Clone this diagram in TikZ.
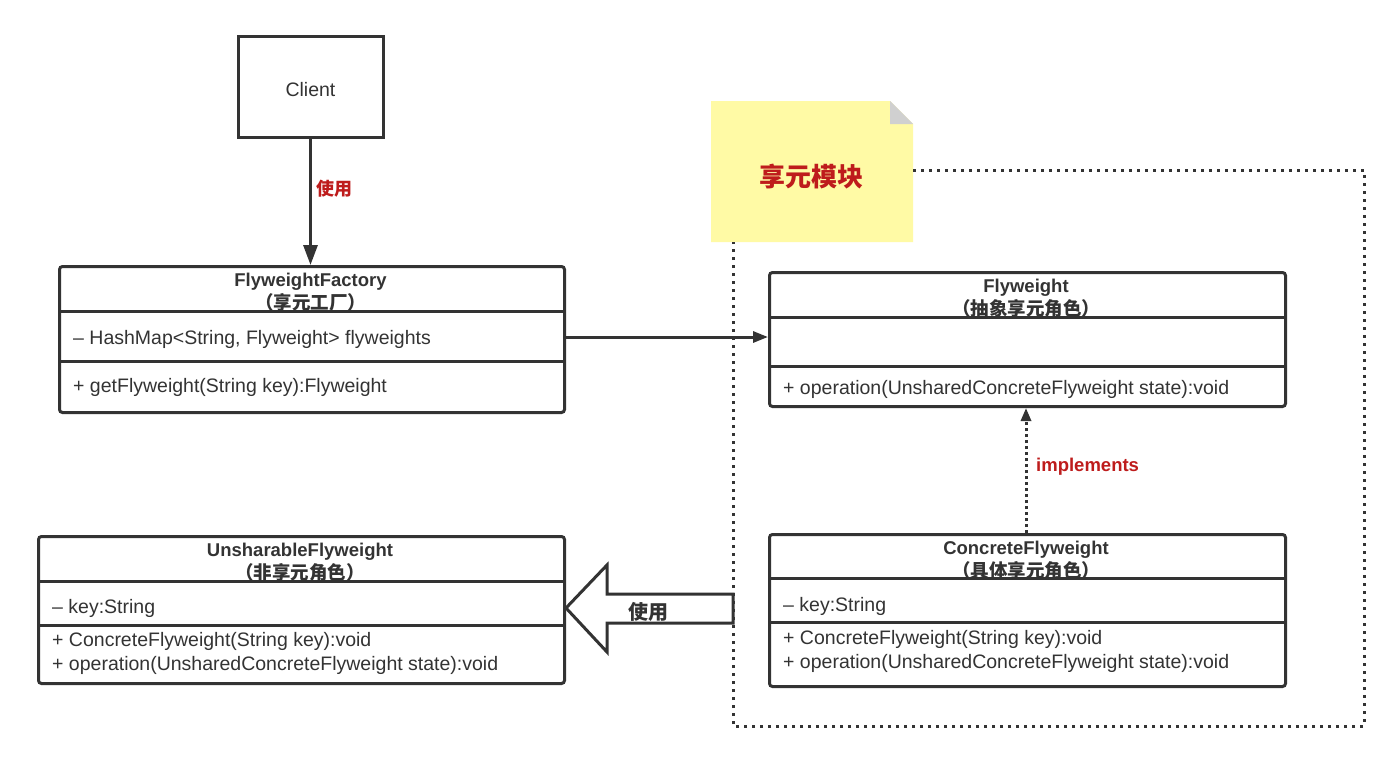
\documentclass[tikz,border=0pt]{standalone}
\usepackage{fontspec}
\setmainfont{Liberation Sans}
\newfontfamily\cjk{Noto Sans CJK SC}
\usetikzlibrary{arrows.meta}
\definecolor{ink}{RGB}{51,51,51}
\definecolor{redtxt}{RGB}{190,28,28}
\definecolor{notey}{RGB}{255,250,165}
\definecolor{notec}{RGB}{208,208,208}
\begin{document}
\begin{tikzpicture}[x=1pt,y=-1pt,
  umlbox/.style={draw=ink,line width=3pt,rounded corners=3pt,anchor=north west,inner sep=0pt},
  divline/.style={draw=ink,line width=3pt},
  title/.style={font=\fontsize{18.5}{22}\selectfont\bfseries,text=ink,inner sep=0pt},
  sub/.style={font=\cjk\fontsize{18.5}{22}\selectfont\bfseries,text=ink,inner sep=0pt},
  member/.style={font=\fontsize{19.5}{23}\selectfont,text=ink,inner sep=0pt,anchor=west},
  redlabel/.style={font=\fontsize{18.5}{22}\selectfont\bfseries,text=redtxt,inner sep=0pt},
  conn/.style={draw=ink,line width=3pt}
]
\useasboundingbox (0,0) rectangle (1400,763);
\fill[white] (0,0) rectangle (1400,763);

% Client
\node[draw=ink,line width=3pt,minimum width=145pt,minimum height=101pt,inner sep=0pt,
      font=\fontsize{19.5}{23}\selectfont,text=ink] (client) at (310.5,86.5) {};
\node[font=\fontsize{19.5}{23}\selectfont,text=ink,inner sep=0pt] (clientt) at (310.5,89.5) {Client};

% FlyweightFactory
\node[umlbox,minimum width=505pt,minimum height=146pt] (ff) at (58,265) {};
\draw[divline] (58,311) -- (563,311);
\draw[divline] (58,361) -- (563,361);
\node[title] (fft) at (310.5,281.5) {FlyweightFactory};
\node[sub] (ffs) at (310.5,302.5) {（享元工厂）};
\node[member] (ffa) at (73,339) {– HashMap<String, Flyweight> flyweights};
\node[member] (ffm) at (73,387) {+ getFlyweight(String key):Flyweight};

% Note
\fill[notey] (711,101) -- (890,101) -- (913,124) -- (913,242) -- (711,242) -- cycle;
\fill[notec] (890,101) -- (913,124) -- (890,124) -- cycle;
\node[font=\cjk\fontsize{26}{30}\selectfont\bfseries,text=redtxt,inner sep=0pt] (note) at (811,177) {享元模块};

% dotted module boundary
\draw[ink,line width=3pt,dash pattern=on 3pt off 5pt] (913,170) -- (1364,170) -- (1364,726) -- (733,726) -- (733,242);

% Flyweight
\node[umlbox,minimum width=516pt,minimum height=134pt] (fw) at (768,271) {};
\draw[divline] (768,317) -- (1284,317);
\draw[divline] (768,366) -- (1284,366);
\node[title] (fwt) at (1026,287.5) {Flyweight};
\node[sub] (fws) at (1026,308.5) {（抽象享元角色）};
\node[member] (fwm) at (783,389) {+ operation(UnsharedConcreteFlyweight state):void};

% ConcreteFlyweight
\node[umlbox,minimum width=516pt,minimum height=152pt] (cf) at (768,533) {};
\draw[divline] (768,578) -- (1284,578);
\draw[divline] (768,622) -- (1284,622);
\node[title] (cft) at (1026,549.5) {ConcreteFlyweight};
\node[sub] (cfs) at (1026,570.5) {（具体享元角色）};
\node[member] (cfa) at (783,606) {– key:String};
\node[member] (cfm1) at (783,639) {+ ConcreteFlyweight(String key):void};
\node[member] (cfm2) at (783,663) {+ operation(UnsharedConcreteFlyweight state):void};

% UnsharableFlyweight
\node[umlbox,minimum width=526pt,minimum height=147pt] (uf) at (37,535) {};
\draw[divline] (37,581) -- (563,581);
\draw[divline] (37,625) -- (563,625);
\node[title] (uft) at (300,551.5) {UnsharableFlyweight};
\node[sub] (ufs) at (300,572.5) {（非享元角色）};
\node[member] (ufa) at (52,608) {– key:String};
\node[member] (ufm1) at (52,641) {+ ConcreteFlyweight(String key):void};
\node[member] (ufm2) at (52,665) {+ operation(UnsharedConcreteFlyweight state):void};

% Client -> Factory
\draw[conn,-{Triangle[length=20pt,width=14pt]}] (client.south) -- (ff.north -| client.south);
\node[redlabel,font=\cjk\fontsize{18}{22}\selectfont\bfseries] (use1) at (334,189) {使用};

% Factory -> Flyweight
\draw[conn,-{Triangle[length=15pt,width=11pt]}] (ff.east |- 0,337) -- (fw.west |- 0,337);

% implements
\draw[ink,line width=3pt,dash pattern=on 3pt off 3pt,-{Triangle[length=13pt,width=10pt]}] (cf.north -| fwt) -- (fw.south -| fwt);
\node[redlabel,anchor=west] (impl) at (1036,467) {implements};

% big hollow arrow
\coordinate (tip) at (uf.east |- 0,608);
\draw[ink,line width=3pt,line join=miter] (733,594) -- (607,594) -- (607,565) -- (tip) -- (607,652) -- (607,623) -- (733,623) -- cycle;
\node[font=\cjk\fontsize{20}{24}\selectfont\bfseries,text=ink,inner sep=0pt] (use2) at (648,612) {使用};
\end{tikzpicture}
\end{document}
